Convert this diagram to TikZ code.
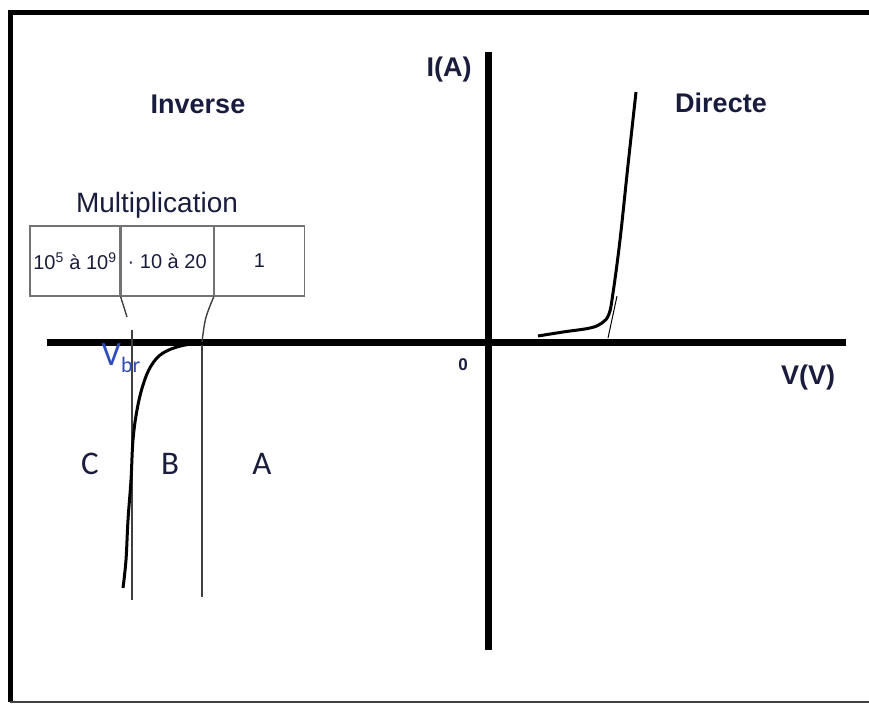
\documentclass[tikz,border=0pt]{standalone}
\usepackage{fontspec}
\setmainfont{Liberation Sans}
\newfontfamily\calibfont{Carlito}
\usepackage{xcolor}
\usetikzlibrary{positioning}
\definecolor{inknavy}{RGB}{25,28,60}
\definecolor{vbrblue}{RGB}{45,75,185}

\begin{document}
\begin{tikzpicture}[x=1pt,y=-1pt,
  axisline/.style={line width=7pt},
  bigcurve/.style={line width=3pt,line join=round},
  guide/.style={line width=1.4pt,draw=black!75},
  title/.style={font=\fontsize{27}{30}\selectfont\bfseries,text=inknavy},
  cellbox/.style={draw=black!55,line width=1.2pt,minimum height=70pt,inner sep=0pt,
    font=\fontsize{20}{22}\selectfont,text=inknavy},
  zone/.style={font=\calibfont\fontsize{33}{36}\selectfont,text=inknavy}]
\useasboundingbox (0,0) rectangle (869,704);
% frame
\draw[line width=5pt] (869,12.5) -- (10,12.5) -- (10,702);
\draw[line width=2pt,black!75] (10,702) -- (869,702);
% axes
\coordinate (xl) at (47,342);
\coordinate (xr) at (846,342);
\coordinate (yt) at (488,52);
\coordinate (yb) at (488,650);
\draw[axisline] (xl) -- (xr);
\draw[axisline] (yt) -- (yb);
\node[title] (ia) at (449,70) {I(A)};
\node[title] (vv) at (808,378) {V(V)};
\node[font=\fontsize{17}{19}\selectfont\bfseries,text=inknavy] (orig) at (463,365) {0};
\node[title] (inv) at (198,104) {Inverse};
\node[title] (dir) at (721,103) {Directe};
% multiplication table
\node[font=\fontsize{28}{30}\selectfont,text=inknavy] (mult) at (157,205) {Multiplication};
\node[cellbox,minimum width=90pt] (m1) at (75,261) {10\textsuperscript{5} à 10\textsuperscript{9}};
\node[cellbox,minimum width=92pt,right=0pt of m1] (m2) {· 10 à 20};
\node[cellbox,minimum width=90pt,right=0pt of m2] (m3) {1};
% zone limits
\coordinate (cut1) at (127,317);
\coordinate (ctop) at (132,330);
\coordinate (cbot) at (132,600);
\coordinate (btop) at (202,342);
\coordinate (bbot) at (202,597);
\draw[guide] (m1.south east) -- (cut1);
\draw[guide] (m2.south east) .. controls (205,318) .. (btop);
\draw[guide] (ctop) -- (cbot);
\draw[guide] (btop) -- (bbot);
\node[zone] (zc) at (90,464) {C};
\node[zone] (zb) at (170,464) {B};
\node[zone] (za) at (262,464) {A};
\node[font=\calibfont\fontsize{34}{36}\selectfont,text=vbrblue] (vbr) at (121,358)
  {V\raisebox{-7pt}{\fontsize{22}{24}\selectfont br}};
% characteristic
\draw[bigcurve] plot[smooth,tension=0.6] coordinates {(215,343) (185,345) (163,353)
  (151,366) (143,385) (137,410) (133,440) (131,480) (128,520) (126,560) (123,588)};
\draw[bigcurve] plot[smooth,tension=0.6] coordinates {(538,336) (563,332) (590,328)
  (602,323) (609,314) (613,293) (620,240) (628,165) (636,92)};
\draw[line width=1pt] (608,338) -- (617,296);
\end{tikzpicture}
\end{document}
